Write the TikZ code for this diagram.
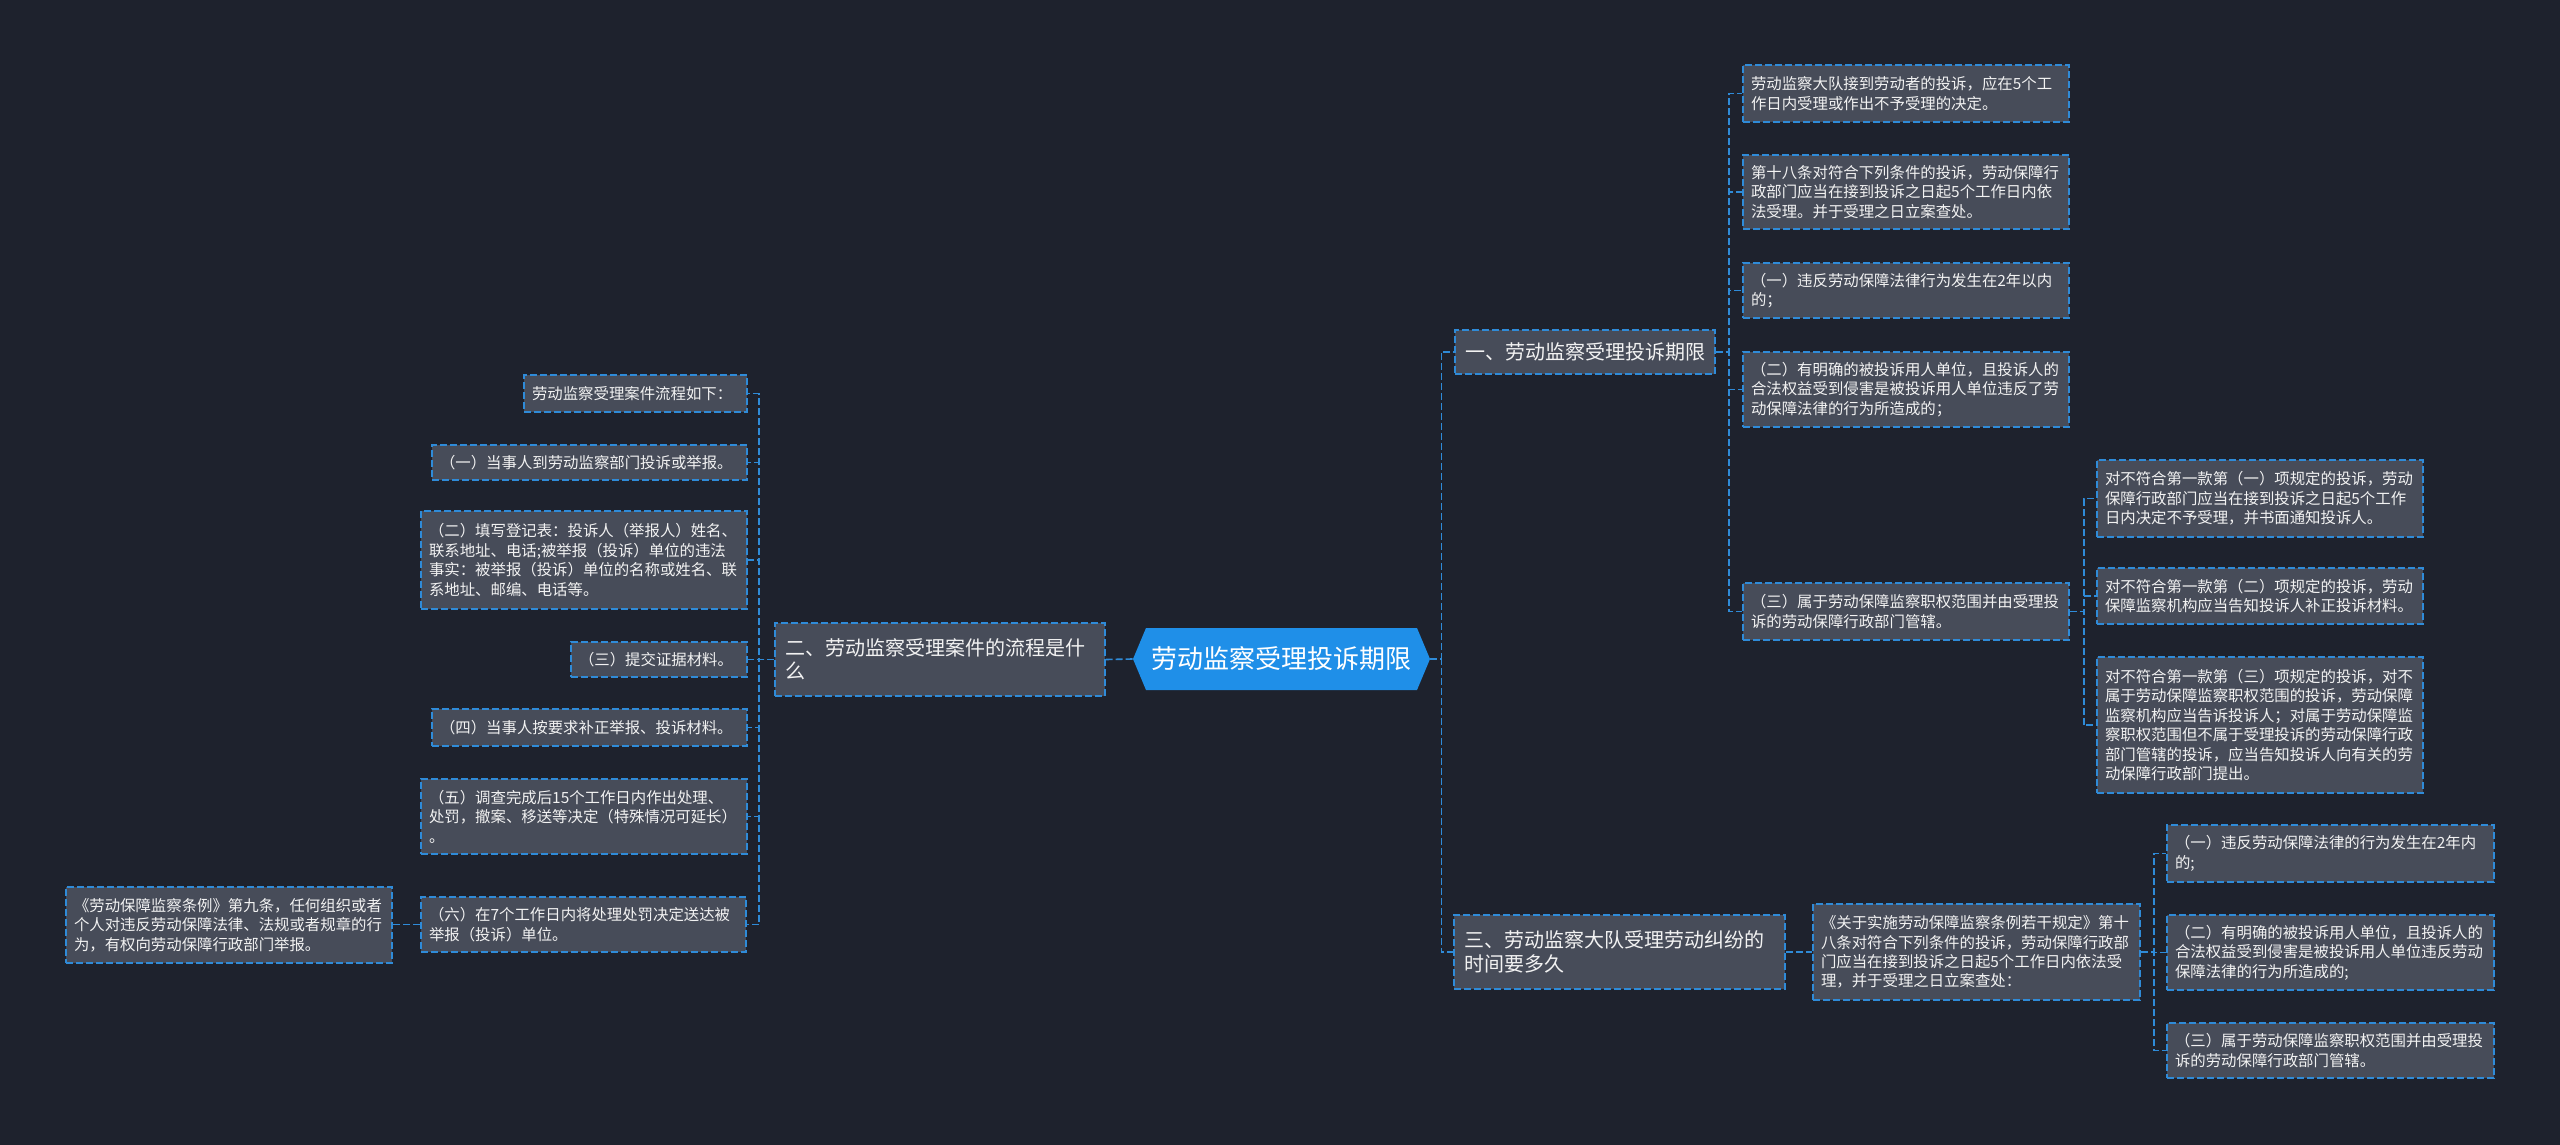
\documentclass[tikz,border=0pt]{standalone}
\usepackage{fontspec}
\setmainfont{Noto Sans CJK SC}
\definecolor{bgc}{HTML}{1E222D}
\definecolor{nodec}{HTML}{474C59}
\definecolor{linec}{HTML}{2F8BD8}
\definecolor{rootc}{HTML}{1F8FE8}
\definecolor{textc}{HTML}{F2F2F2}
\tikzset{
  boxbase/.style={rectangle, draw=linec, dash pattern=on 3.5pt off 1.5pt, line width=0.8pt, fill=nodec, text=textc, align=left, inner ysep=2pt},
  leaf/.style={boxbase, inner xsep=4pt, font=\fontsize{7.7}{9.7}\selectfont},
  branch/.style={boxbase, inner xsep=5pt, font=\fontsize{10}{11.7}\selectfont},
  conn/.style={draw=linec, dash pattern=on 3.5pt off 1.5pt, line width=0.8pt},
}
\begin{document}
\begin{tikzpicture}[x=0.5pt,y=-0.5pt]
\fill[bgc] (0,0) rectangle (2560,1145);
\useasboundingbox (0,0) rectangle (2560,1145);

% root
\fill[rootc] (1133,659) -- (1146,628) -- (1417,628) -- (1430,659) -- (1417,690) -- (1146,690) -- cycle;
\node[minimum width=148.5pt, minimum height=31pt, inner sep=0pt, text=white, font=\fontsize{13}{15}\selectfont] (root) at (1281.5,659) {劳动监察受理投诉期限};

% branches
\node[branch, text width=120pt, minimum height=22pt] (b1) at (1585,352) {一、劳动监察受理投诉期限};
\node[branch, text width=155pt, minimum height=36.5pt] (b2) at (940,659.5) {二、劳动监察受理案件的流程是什\\么};
\node[branch, text width=155.5pt, minimum height=37pt] (b3) at (1619.5,952) {三、劳动监察大队受理劳动纠纷的\\时间要多久};

% branch 1 children
\node[leaf, text width=155pt, minimum height=28.5pt] (c1a) at (1906,93.5) {劳动监察大队接到劳动者的投诉，应在5个工\\作日内受理或作出不予受理的决定。};
\node[leaf, text width=155pt, minimum height=37pt] (c1b) at (1906,192) {第十八条对符合下列条件的投诉，劳动保障行\\政部门应当在接到投诉之日起5个工作日内依\\法受理。并于受理之日立案查处。};
\node[leaf, text width=155pt, minimum height=27.5pt] (c1c) at (1906,290.5) {（一）违反劳动保障法律行为发生在2年以内\\的；};
\node[leaf, text width=155pt, minimum height=37.5pt] (c1d) at (1906,389.5) {（二）有明确的被投诉用人单位，且投诉人的\\合法权益受到侵害是被投诉用人单位违反了劳\\动保障法律的行为所造成的；};
\node[leaf, text width=155pt, minimum height=28.5pt] (c1e) at (1906,611.5) {（三）属于劳动保障监察职权范围并由受理投\\诉的劳动保障行政部门管辖。};

\node[leaf, text width=155pt, minimum height=38.5pt] (g1) at (2260,498.5) {对不符合第一款第（一）项规定的投诉，劳动\\保障行政部门应当在接到投诉之日起5个工作\\日内决定不予受理，并书面通知投诉人。};
\node[leaf, text width=155pt, minimum height=28pt] (g2) at (2260,596) {对不符合第一款第（二）项规定的投诉，劳动\\保障监察机构应当告知投诉人补正投诉材料。};
\node[leaf, text width=155pt, minimum height=68pt] (g3) at (2260,725) {对不符合第一款第（三）项规定的投诉，对不\\属于劳动保障监察职权范围的投诉，劳动保障\\监察机构应当告诉投诉人；对属于劳动保障监\\察职权范围但不属于受理投诉的劳动保障行政\\部门管辖的投诉，应当告知投诉人向有关的劳\\动保障行政部门提出。};

% branch 3 children
\node[leaf, text width=155.5pt, minimum height=48pt] (b3c) at (1976.5,952) {《关于实施劳动保障监察条例若干规定》第十\\八条对符合下列条件的投诉，劳动保障行政部\\门应当在接到投诉之日起5个工作日内依法受\\理，并于受理之日立案查处：};
\node[leaf, text width=155.5pt, minimum height=28.5pt] (h1) at (2330.5,853.5) {（一）违反劳动保障法律的行为发生在2年内\\的;};
\node[leaf, text width=155.5pt, minimum height=37.5pt] (h2) at (2330.5,952.5) {（二）有明确的被投诉用人单位，且投诉人的\\合法权益受到侵害是被投诉用人单位违反劳动\\保障法律的行为所造成的;};
\node[leaf, text width=155.5pt, minimum height=27.5pt] (h3) at (2330.5,1050.5) {（三）属于劳动保障监察职权范围并由受理投\\诉的劳动保障行政部门管辖。};

% branch 2 children
\node[leaf, text width=103.5pt, minimum height=18.5pt] (l1) at (635.5,393.5) {劳动监察受理案件流程如下：};
\node[leaf, text width=149.5pt, minimum height=17.5pt] (l2) at (589.5,462.5) {（一）当事人到劳动监察部门投诉或举报。};
\node[leaf, text width=155pt, minimum height=49pt] (l3) at (584,560) {（二）填写登记表：投诉人（举报人）姓名、\\联系地址、电话;被举报（投诉）单位的违法\\事实：被举报（投诉）单位的名称或姓名、联\\系地址、邮编、电话等。};
\node[leaf, text width=80pt, minimum height=17.5pt] (l4) at (659,659.5) {（三）提交证据材料。};
\node[leaf, text width=149.5pt, minimum height=18.5pt] (l5) at (589.5,727.5) {（四）当事人按要求补正举报、投诉材料。};
\node[leaf, text width=155pt, minimum height=37.5pt] (l6) at (584,816.5) {（五）调查完成后15个工作日内作出处理、\\处罚，撤案、移送等决定（特殊情况可延长）\\。};
\node[leaf, text width=154.5pt, minimum height=27.5pt] (l7) at (583.5,924.5) {（六）在7个工作日内将处理处罚决定送达被\\举报（投诉）单位。};
\node[leaf, text width=155pt, minimum height=38pt] (far) at (229,925) {《劳动保障监察条例》第九条，任何组织或者\\个人对违反劳动保障法律、法规或者规章的行\\为，有权向劳动保障行政部门举报。};

% connectors
\draw[conn] (root.east) -- ++(11,0) |- (b1.west);
\draw[conn] (root.east) -- ++(11,0) |- (b3.west);
\draw[conn] (root.west) -- (b2.east);
\foreach \c in {c1a,c1b,c1c,c1d,c1e}
  \draw[conn] (b1.east) -- ++(13,0) |- (\c.west);
\foreach \c in {g1,g2,g3}
  \draw[conn] (c1e.east) -- ++(14,0) |- (\c.west);
\foreach \c in {l1,l2,l3,l4,l5,l6,l7}
  \draw[conn] (b2.west) -- ++(-15,0) |- (\c.east);
\draw[conn] (l7.west) -- (l7.west -| far.east);
\draw[conn] (b3.east) -- (b3c.west);
\foreach \c in {h1,h2,h3}
  \draw[conn] (b3c.east) -- ++(13,0) |- (\c.west);
\end{tikzpicture}
\end{document}
